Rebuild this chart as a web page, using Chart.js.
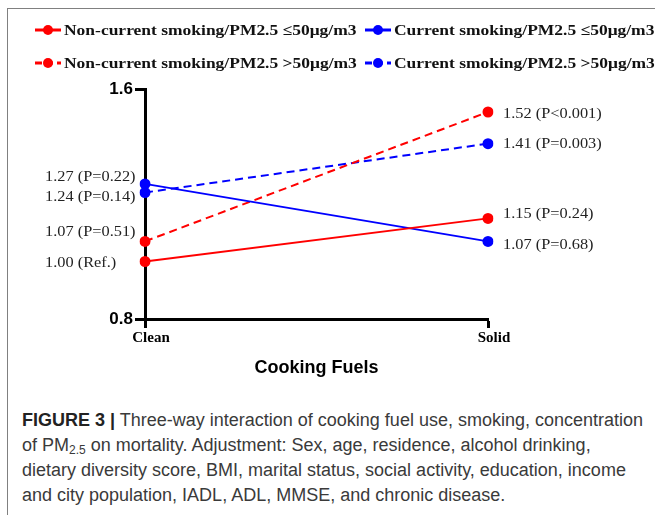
<!DOCTYPE html>
<html>
<head>
<meta charset="utf-8">
<script src="https://cdn.jsdelivr.net/npm/chart.js@4.4.1/dist/chart.umd.min.js"></script>
<style>
  html, body { margin:0; padding:0; background:#fff; }
  body { width:655px; height:515px; position:relative; overflow:hidden; }
  #frame { position:absolute; left:7px; top:8px; width:648px; height:507px; border-top:1px solid #808080; border-left:1px solid #808080; }
  #c { position:absolute; left:0; top:0; }
  #caption { position:absolute; left:22px; top:408px; width:640px; font-family:"Liberation Sans", Arial, sans-serif; font-size:18px; line-height:25px; color:#3a3a3a; white-space:nowrap; transform-origin:0 0; }
  #caption b { color:#222; }
  #caption sub { font-size:12px; vertical-align:-3px; line-height:0; }
</style>
</head>
<body>
<div id="frame"></div>
<canvas id="c" width="655" height="390"></canvas>
<div id="caption">
<div><b>FIGURE 3 |</b> Three-way interaction of cooking fuel use, smoking, concentration</div>
<div>of PM<sub>2.5</sub> on mortality. Adjustment: Sex, age, residence, alcohol drinking,</div>
<div>dietary diversity score, BMI, marital status, social activity, education, income</div>
<div>and city population, IADL, ADL, MMSE, and chronic disease.</div>
</div>
<script>
// ---- data ----
const categories = ['Clean', 'Solid'];
const seriesNames = [
  'Non-current smoking/PM2.5 \u226450\u03bcg/m3',
  'Current smoking/PM2.5 \u226450\u03bcg/m3',
  'Non-current smoking/PM2.5 >50\u03bcg/m3',
  'Current smoking/PM2.5 >50\u03bcg/m3'
];
const nonCurrentLow = [1.00, 1.15];
const currentLow = [1.27, 1.07];
const nonCurrentHigh = [1.07, 1.52];
const currentHigh = [1.24, 1.41];
const nonCurrentLowLabels = ['1.00 (Ref.)', '1.15 (P=0.24)'];
const currentLowLabels = ['1.27 (P=0.22)', '1.07 (P=0.68)'];
const nonCurrentHighLabels = ['1.07 (P=0.51)', '1.52 (P<0.001)'];
const currentHighLabels = ['1.24 (P=0.14)', '1.41 (P=0.003)'];
const yTickValues = [0.8, 1.6];
const xTitle = 'Cooking Fuels';

// ---- styling ----
const RED = '#ff0000', BLUE = '#0000ff';
const DASH = [8, 5];
// label vertical nudges (px) per dataset [clean, solid]
const labelNudge = [[1.5, -4], [-7, 3.5], [-9, 2], [4.5, 0]];

function ds(label, data, color, dashed, labels) {
  return {
    label, data, labels,
    borderColor: color, backgroundColor: color,
    pointBackgroundColor: color, pointBorderColor: color,
    borderWidth: 2, pointRadius: 5.5, pointBorderWidth: 0,
    borderDash: dashed ? DASH : [],
    fill: false, tension: 0
  };
}

function stretchText(ctx, txt, x, y, sx) {
  ctx.save();
  ctx.translate(x, y);
  ctx.scale(sx, 1);
  ctx.fillText(txt, 0, 0);
  ctx.restore();
}

const pluginLabels = {
  id: 'customDraw',
  afterDatasetsDraw(chart) {
    const ctx = chart.ctx;
    ctx.save();
    // point labels
    ctx.font = '15px "Liberation Serif", "Times New Roman", serif';
    ctx.fillStyle = '#222';
    ctx.textBaseline = 'middle';
    ctx.textAlign = 'left';
    chart.data.datasets.forEach((d, i) => {
      const meta = chart.getDatasetMeta(i);
      meta.data.forEach((pt, j) => {
        const txt = d.labels[j];
        const x = j === 0 ? pt.x - 100 : pt.x + 15;
        stretchText(ctx, txt, x, pt.y + labelNudge[i][j], 1.09);
      });
    });
    // legend
    const slots = [[35, 30], [365, 30], [35, 63], [365, 63]];
    ctx.font = 'bold 15px "Liberation Serif", "Times New Roman", serif';
    chart.data.datasets.forEach((d, i) => {
      const [x, y] = slots[i];
      ctx.strokeStyle = d.borderColor;
      ctx.lineWidth = 3;
      ctx.setLineDash(d.borderDash.length ? [7, 4] : []);
      ctx.beginPath();
      ctx.moveTo(x, y); ctx.lineTo(x + 26, y);
      ctx.stroke();
      ctx.setLineDash([]);
      ctx.fillStyle = d.borderColor;
      ctx.beginPath();
      ctx.arc(x + 13, y, 5, 0, Math.PI * 2);
      ctx.fill();
      ctx.fillStyle = '#111';
      stretchText(ctx, d.label, x + 29, y + 1, 1.165);
    });
    ctx.restore();
  }
};

new Chart(document.getElementById('c'), {
  type: 'line',
  data: {
    labels: categories,
    datasets: [
      ds(seriesNames[0], nonCurrentLow, RED, false, nonCurrentLowLabels),
      ds(seriesNames[1], currentLow, BLUE, false, currentLowLabels),
      ds(seriesNames[2], nonCurrentHigh, RED, true, nonCurrentHighLabels),
      ds(seriesNames[3], currentHigh, BLUE, true, currentHighLabels)
    ]
  },
  options: {
    responsive: false, animation: false, devicePixelRatio: 1,
    layout: { padding: { left: 0, right: 167, top: 89, bottom: 0 } },
    plugins: { legend: { display: false }, tooltip: { enabled: false } },
    scales: {
      x: {
        type: 'category', offset: false,
        grid: { drawOnChartArea: false, drawTicks: true, tickLength: 9, tickWidth: 3, tickColor: '#000', color: '#000' },
        border: { color: '#000', width: 3 },
        ticks: { font: { family: '"Liberation Serif", "Times New Roman", serif', weight: 'bold', size: 15 }, color: '#000', padding: 1, labelOffset: 6, maxRotation: 0, autoSkip: false },
        title: { display: true, text: xTitle, color: '#000', font: { family: '"Liberation Sans", Arial, sans-serif', weight: 'bold', size: 18 }, padding: { top: 4, bottom: 11 } },
        afterFit: s => { s.height = 71; }
      },
      y: {
        min: 0.8, max: 1.6,
        afterBuildTicks: s => { s.ticks = yTickValues.map(v => ({ value: v })); },
        grid: { drawOnChartArea: false, drawTicks: true, tickLength: 10, tickWidth: 3, tickColor: '#000', color: '#000' },
        border: { color: '#000', width: 3 },
        ticks: { font: { family: '"Liberation Sans", Arial, sans-serif', weight: 'bold', size: 17 }, color: '#000', padding: 2, callback: v => Number(v).toFixed(1) },
        afterFit: s => { s.width = 145; }
      }
    }
  },
  plugins: [pluginLabels]
});
</script>
</body>
</html>
